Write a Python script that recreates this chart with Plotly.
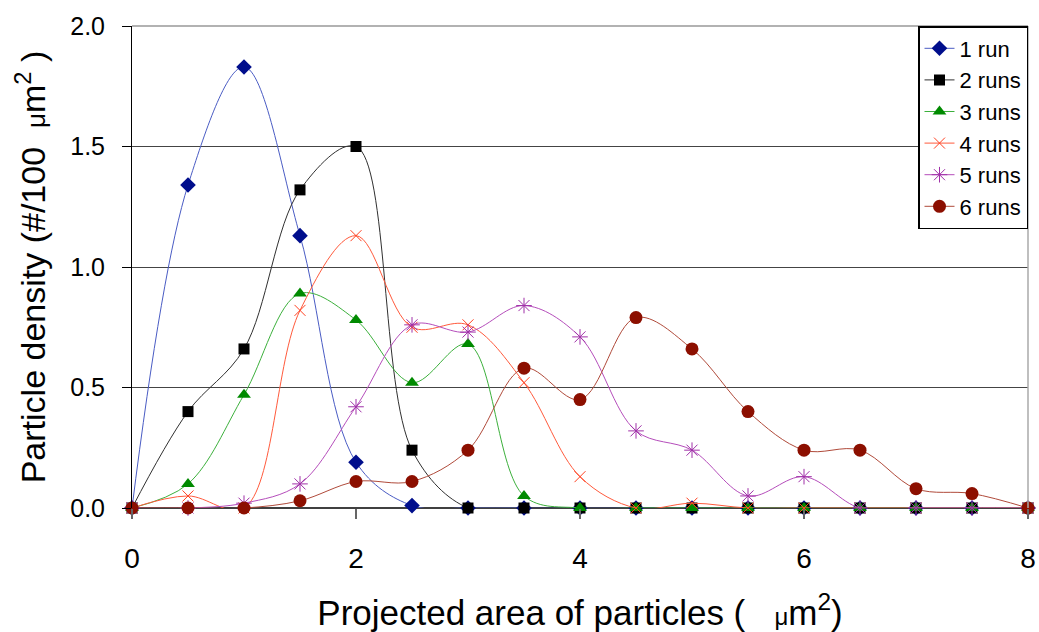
import plotly.graph_objects as go

x_vals = [0, 0.5, 1, 1.5, 2, 2.5, 3, 3.5, 4, 4.5, 5, 5.5, 6, 6.5, 7, 7.5, 8]

run1 = [0, 1.34, 1.83, 1.13, 0.19, 0.01, 0, 0, 0, 0, 0, 0, 0, 0, 0, 0, 0]
run2 = [0, 0.40, 0.66, 1.32, 1.50, 0.24, 0, 0, 0, 0, 0, 0, 0, 0, 0, 0, 0]
run3 = [0, 0.10, 0.47, 0.89, 0.78, 0.52, 0.68, 0.05, 0, 0, 0, 0, 0, 0, 0, 0, 0]
run4 = [0, 0.05, 0, 0.82, 1.13, 0.75, 0.76, 0.52, 0.13, 0, 0.02, 0, 0, 0, 0, 0, 0]
run5 = [0, 0, 0.02, 0.10, 0.42, 0.76, 0.73, 0.84, 0.71, 0.32, 0.24, 0.05, 0.13, 0, 0, 0, 0]
run6 = [0, 0, 0, 0.03, 0.11, 0.11, 0.24, 0.58, 0.45, 0.79, 0.66, 0.40, 0.24, 0.24, 0.08, 0.06, 0]

names = ["1 run", "2 runs", "3 runs", "4 runs", "5 runs", "6 runs"]
series = [run1, run2, run3, run4, run5, run6]

styles = [
    dict(line="#4a5cc4", mc="#000e8c", sym="diamond", size=12, lw=0),
    dict(line="#303030", mc="#000000", sym="square", size=11, lw=0),
    dict(line="#3cb03c", mc="#008a00", sym="triangle-up", size=12, lw=0),
    dict(line="#ff5a3c", mc="#ff4020", sym="x-thin", size=11, lw=1),
    dict(line="#b54dbb", mc="#a030a8", sym="asterisk", size=13, lw=1),
    dict(line="#b04a3a", mc="#8c0f00", sym="circle", size=13, lw=0),
]

fig = go.Figure()
for i, (name, ys, st) in enumerate(zip(names, series, styles)):
    fig.add_trace(go.Scatter(
        x=x_vals, y=ys, name=name, mode="lines+markers",
        line=dict(color=st["line"], width=1, shape="spline", smoothing=1),
        marker=dict(symbol=st["sym"], size=st["size"], color=st["mc"],
                    line=dict(color=st["mc"], width=st["lw"])),
        cliponaxis=False,
    ))

fig.update_layout(
    width=1039, height=632,
    margin=dict(l=132, r=11, t=26, b=124, autoexpand=False),
    paper_bgcolor="white", plot_bgcolor="white",
    font=dict(family="Liberation Sans, Arial, sans-serif", color="black"),
    showlegend=True,
    legend=dict(x=1, xanchor="right", y=1, yanchor="top",
                bordercolor="black", borderwidth=1.5, bgcolor="white",
                font=dict(size=22)),
    xaxis=dict(
        range=[0, 8], dtick=2, tick0=0, automargin=False,
        showgrid=False, zeroline=False,
        showline=False,
        ticks="outside", ticklen=10, tickcolor="#666", tickwidth=1.5,
        ticklabelstandoff=15,
        tickfont=dict(size=28),
        title=dict(text="Projected area of particles (   <span style='font-size:24px'>μ</span>m<sup>2</sup>)",
                   font=dict(size=35), standoff=32),
    ),
    yaxis=dict(
        range=[0, 2.0], dtick=0.5, tick0=0, tickformat=".1f", automargin=False,
        showgrid=True, gridcolor="#444", gridwidth=1,
        zeroline=False,
        showline=True, linecolor="black", linewidth=1,
        ticks="outside", ticklen=9, tickcolor="black",
        ticklabelstandoff=12,
        tickfont=dict(size=25),
        title=dict(text="Particle density (#/100  <span style='font-size:26px'>μ</span>m<sup>2</sup> )",
                   font=dict(size=34), standoff=14),
    ),
    shapes=[
        dict(type="line", xref="paper", yref="paper", x0=0, x1=1, y0=1, y1=1,
             line=dict(color="#999", width=1.5)),
        dict(type="line", xref="paper", yref="paper", x0=0, x1=1, y0=0, y1=0,
             line=dict(color="black", width=1.5), layer="below"),
        dict(type="line", xref="paper", yref="paper", x0=1, x1=1, y0=0, y1=1,
             line=dict(color="#aaa", width=1.5)),
    ],
)

fig.write_html("out.html")
